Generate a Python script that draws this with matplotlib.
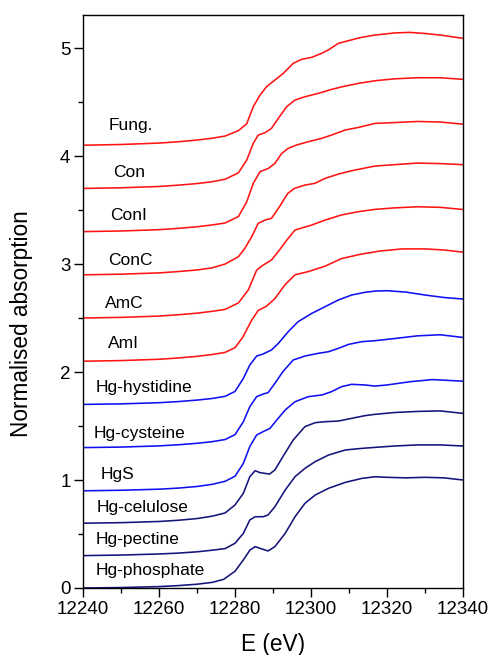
import matplotlib
matplotlib.use("Agg")
import matplotlib.pyplot as plt
from matplotlib.ticker import MultipleLocator

plt.rcParams['font.family'] = ['Liberation Sans', 'DejaVu Sans']

# ---- data (energies in eV, offset-stacked normalised absorption) ----
phos_E = [12240, 12250, 12260, 12265, 12270, 12274, 12277, 12280, 12282.2, 12283.9, 12285.3, 12286.6,
          12288.7, 12290.5, 12293.2, 12295.8, 12298.4, 12301.1, 12304.6, 12309, 12313.4, 12316.8,
          12320, 12325, 12330, 12335, 12340]
phos_v = [0.0, 0.004, 0.013, 0.022, 0.035, 0.052, 0.08, 0.155, 0.26, 0.35, 0.383, 0.367,
          0.343, 0.383, 0.506, 0.66, 0.784, 0.861, 0.923, 0.978, 1.015, 1.03,
          1.025, 1.02, 1.025, 1.02, 1.0]

pect_E = [12240, 12250, 12260, 12265, 12270, 12274, 12277.4, 12280, 12282.2, 12283.9, 12285.3, 12287.4,
          12288.7, 12290.5, 12293.2, 12295.8, 12298.4, 12301.1, 12304.6, 12309, 12313.4, 12316.8,
          12322, 12328, 12334, 12340]
pect_v = [0.3, 0.305, 0.315, 0.323, 0.335, 0.35, 0.365, 0.414, 0.506, 0.63, 0.66, 0.66,
          0.676, 0.753, 0.907, 1.031, 1.108, 1.17, 1.231, 1.278, 1.293, 1.302,
          1.315, 1.325, 1.325, 1.315]

celu_E = [12240, 12250, 12260, 12265, 12270, 12274, 12277.4, 12280, 12282.2, 12283.9, 12285.3, 12286.6,
          12289.1, 12290.5, 12292.6, 12295.3, 12298.4, 12301.1, 12303.7, 12307.2, 12310.7, 12314.2,
          12316.8, 12322, 12328, 12334, 12340]
celu_v = [0.6, 0.605, 0.616, 0.627, 0.643, 0.665, 0.695, 0.769, 0.877, 1.031, 1.086, 1.068,
          1.055, 1.093, 1.216, 1.37, 1.494, 1.531, 1.54, 1.546, 1.571, 1.596,
          1.608, 1.625, 1.635, 1.64, 1.617]

hgs_E = [12240, 12250, 12260, 12265, 12270, 12274, 12277.4, 12280, 12282.2, 12283.9, 12285.7, 12287.4,
         12289.2, 12291, 12293.2, 12295.8, 12299.3, 12302.8, 12305.4, 12308, 12310.7, 12314.2,
         12316.8, 12320, 12326, 12332, 12340]
hgs_v = [0.9, 0.905, 0.915, 0.925, 0.94, 0.96, 0.988, 1.035, 1.154, 1.31, 1.417, 1.448,
         1.478, 1.556, 1.648, 1.725, 1.772, 1.787, 1.818, 1.864, 1.886, 1.88,
         1.87, 1.88, 1.91, 1.93, 1.915]

cyst_E = [12240, 12250, 12260, 12265, 12270, 12274, 12277.4, 12280, 12282.2, 12283.9, 12285.7, 12287.4,
          12288.7, 12290.5, 12292.6, 12295.3, 12298.4, 12301.9, 12304.6, 12307.2, 12309.9, 12313.4,
          12316.8, 12322, 12328, 12334, 12340]
cyst_v = [1.3, 1.305, 1.316, 1.326, 1.34, 1.355, 1.375, 1.42, 1.54, 1.679, 1.772, 1.796,
          1.809, 1.895, 2.003, 2.111, 2.148, 2.173, 2.188, 2.219, 2.256, 2.281,
          2.29, 2.31, 2.335, 2.345, 2.32]

hyst_E = [12240, 12250, 12260, 12265, 12270, 12274, 12277.4, 12280, 12282.2, 12283.9, 12285.7, 12287.4,
          12289.6, 12291.4, 12294, 12296.6, 12300.2, 12303.7, 12307.2, 12310.7, 12314.2, 12317,
          12320, 12325, 12330, 12335, 12340]
hyst_v = [1.7, 1.705, 1.716, 1.726, 1.74, 1.755, 1.775, 1.82, 1.941, 2.065, 2.148, 2.167,
          2.204, 2.265, 2.373, 2.466, 2.543, 2.605, 2.667, 2.713, 2.738, 2.75,
          2.753, 2.74, 2.713, 2.69, 2.676]

ami_E = [12240, 12250, 12260, 12265, 12270, 12274, 12277.4, 12280, 12282, 12284.4, 12286.1, 12288.3,
         12290.5, 12293.2, 12295.8, 12299.3, 12303.7, 12308, 12313, 12318, 12324, 12330, 12335, 12340]
ami_v = [2.1, 2.106, 2.118, 2.13, 2.145, 2.162, 2.182, 2.225, 2.32, 2.48, 2.57, 2.61,
         2.68, 2.81, 2.9, 2.93, 2.98, 3.05, 3.09, 3.12, 3.14, 3.14, 3.13, 3.11]

amc_E = [12240, 12250, 12260, 12265, 12270, 12274, 12277.4, 12280.9, 12283.5, 12285.7, 12287.4, 12289.6,
         12291.7, 12293.6, 12295.8, 12300.2, 12303.7, 12308, 12312.5, 12316.8, 12322, 12328, 12334, 12340]
amc_v = [2.5, 2.506, 2.518, 2.53, 2.545, 2.562, 2.58, 2.64, 2.76, 2.944, 2.99, 3.037,
         3.13, 3.22, 3.315, 3.361, 3.407, 3.454, 3.485, 3.506, 3.52, 3.53, 3.525, 3.505]

conc_E = [12240, 12250, 12260, 12265, 12270, 12274, 12277.4, 12280.9, 12282.5, 12284.4, 12286.1, 12287.9,
          12289.6, 12291.7, 12293.9, 12295.6, 12298.4, 12301, 12303.7, 12307.2, 12310.7, 12316.8,
          12322, 12328, 12334, 12340]
conc_v = [2.9, 2.906, 2.918, 2.93, 2.945, 2.965, 3.0, 3.068, 3.14, 3.253, 3.377, 3.407,
          3.423, 3.531, 3.654, 3.70, 3.731, 3.747, 3.793, 3.833, 3.864, 3.907,
          3.92, 3.935, 3.93, 3.92]

coni_E = [12240, 12250, 12260, 12265, 12270, 12274, 12277.4, 12280.9, 12283.1, 12284.8, 12286.6, 12288.8,
          12290.5, 12292.3, 12294, 12296.2, 12299.3, 12302.8, 12305.4, 12309, 12312.5, 12316.8,
          12322, 12328, 12334, 12340]
coni_v = [3.3, 3.306, 3.318, 3.33, 3.345, 3.362, 3.38, 3.44, 3.577, 3.747, 3.855, 3.886,
          3.932, 4.025, 4.071, 4.102, 4.133, 4.164, 4.194, 4.241, 4.265, 4.302,
          4.31, 4.32, 4.315, 4.295]

con_E = [12240, 12250, 12260, 12265, 12270, 12274, 12277.4, 12280.9, 12283.1, 12284.8, 12286.1, 12287.9,
         12289.6, 12291.4, 12293.6, 12295.8, 12298.4, 12301.9, 12305.4, 12309, 12312.5, 12316.8,
         12322, 12328, 12334, 12340]
con_v = [3.7, 3.706, 3.718, 3.73, 3.745, 3.762, 3.785, 3.845, 3.963, 4.117, 4.194, 4.216,
         4.256, 4.349, 4.457, 4.519, 4.549, 4.58, 4.617, 4.648, 4.673, 4.697,
         4.715, 4.725, 4.725, 4.71]

fung_E = [12240, 12250, 12260, 12265, 12270, 12274, 12277.4, 12280.9, 12283.1, 12284.8, 12286.6, 12288.3,
          12290.5, 12292.7, 12295.3, 12297.5, 12300.2, 12302.8, 12304.5, 12307.2, 12309.8, 12313.3,
          12316.8, 12322, 12326, 12330, 12334, 12340]
fung_v = [4.1, 4.107, 4.12, 4.132, 4.148, 4.165, 4.185, 4.235, 4.30, 4.457, 4.565, 4.642,
          4.704, 4.765, 4.858, 4.895, 4.914, 4.951, 4.981, 5.043, 5.068, 5.099,
          5.12, 5.14, 5.145, 5.135, 5.12, 5.09]

names = ["Hg-phosphate", "Hg-pectine", "Hg-celulose", "HgS", "Hg-cysteine", "Hg-hystidine",
         "AmI", "AmC", "ConC", "ConI", "Con", "Fung."]
energies = [phos_E, pect_E, celu_E, hgs_E, cyst_E, hyst_E, ami_E, amc_E, conc_E, coni_E, con_E, fung_E]
values = [phos_v, pect_v, celu_v, hgs_v, cyst_v, hyst_v, ami_v, amc_v, conc_v, coni_v, con_v, fung_v]
label_x = [12243.4, 12243.2, 12243.7, 12244.7, 12242.9, 12243.4, 12246.6, 12245.8, 12246.6, 12247.1, 12247.9, 12246.8]
label_y = [0.162, 0.449, 0.745, 1.05, 1.43, 1.86, 2.26, 2.634, 3.03, 3.45, 3.85, 4.287]

navy = "#14147a"
blue = "#1010f0"
red = "#ff1414"
colors = [navy, navy, navy, blue, blue, blue, red, red, red, red, red, red]

fig = plt.figure(figsize=(4.91, 6.55), dpi=100)
ax = fig.add_axes([83 / 491, 67 / 655, 380 / 491, 573 / 655])

for E, v, c, n, lx, ly in zip(energies, values, colors, names, label_x, label_y):
    ax.plot(E, v, color=c, lw=1.15, solid_joinstyle='round')
    ax.text(lx, ly, n, fontsize=12.5, ha='left', va='center', color='black')

ax.set_xlim(12240, 12340)
ax.set_ylim(0, 5.306)
ax.xaxis.set_major_locator(MultipleLocator(20))
ax.xaxis.set_minor_locator(MultipleLocator(10))
ax.yaxis.set_major_locator(MultipleLocator(1))
ax.yaxis.set_minor_locator(MultipleLocator(0.5))
ax.tick_params(which='both', direction='out', top=False, right=False, width=1.0, labelsize=13.5)
ax.tick_params(which='major', length=6.5, pad=2.5)
ax.tick_params(which='minor', length=3.6)
for s in ax.spines.values():
    s.set_linewidth(1.0)

fig.text(273 / 491, 1 - 645 / 655, "E (eV)", fontsize=16.3, ha='center', va='center')
fig.text(22 / 491, 1 - 324 / 655, "Normalised absorption", fontsize=16.3, ha='center', va='center', rotation=90)

fig.savefig("out.png", dpi=100)
